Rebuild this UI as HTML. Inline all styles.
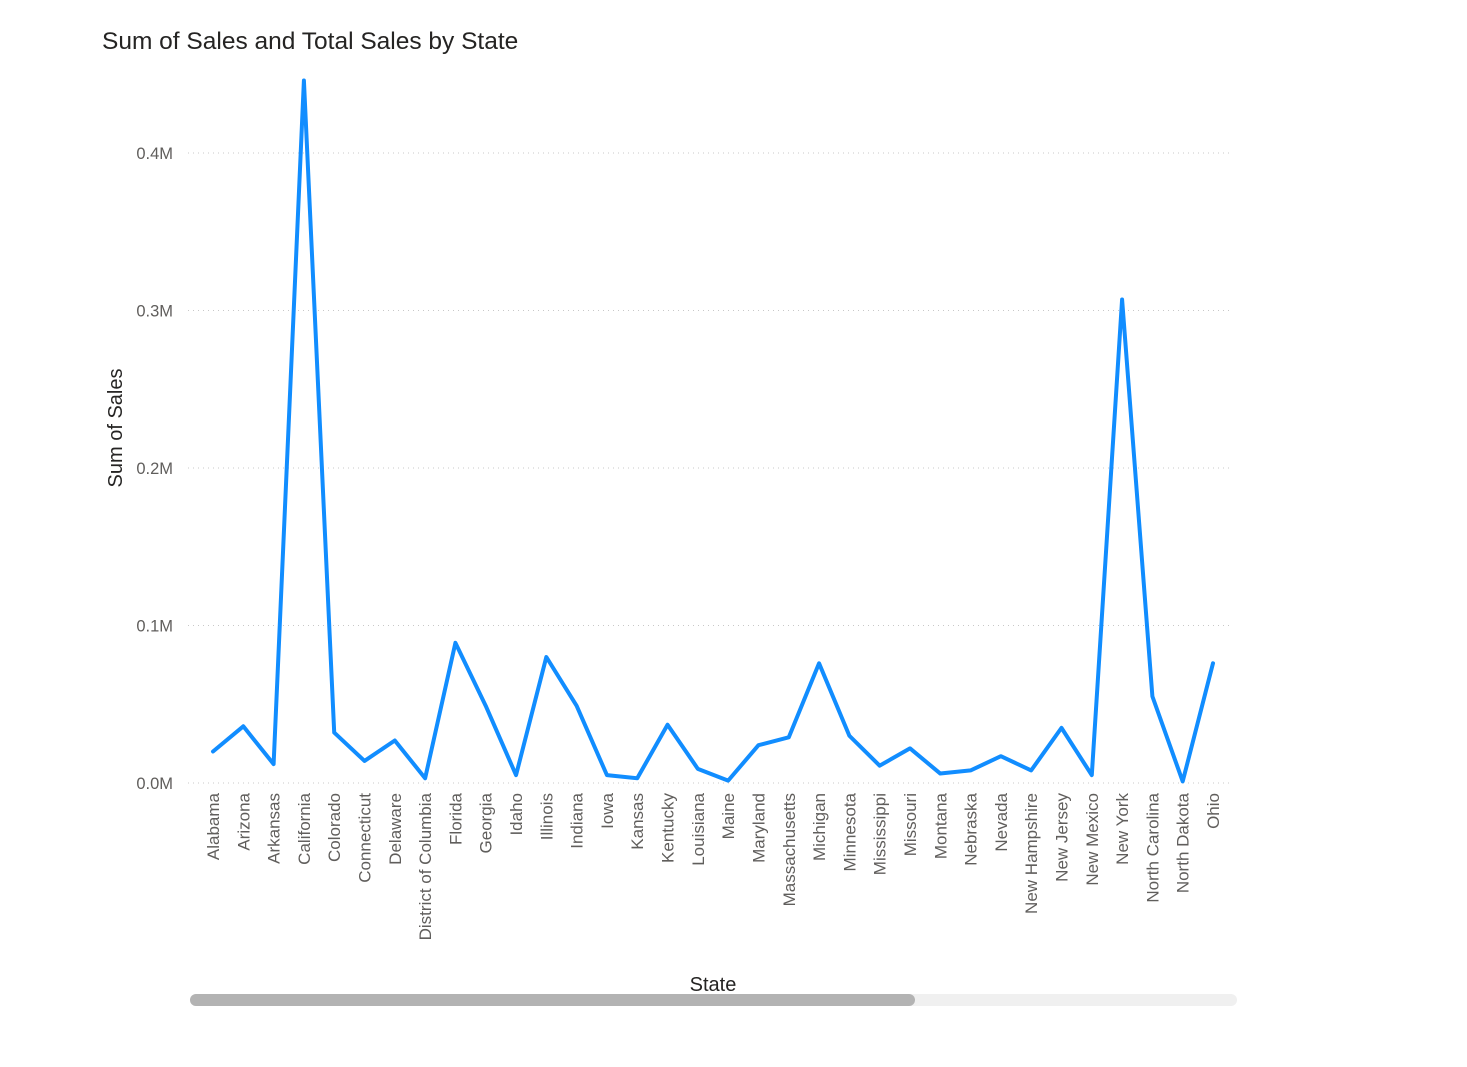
<!DOCTYPE html>
<html><head><meta charset="utf-8"><style>
body{margin:0;background:#fff;width:1467px;height:1062px;overflow:hidden;font-family:"Liberation Sans",sans-serif}
</style></head><body>
<svg width="1467" height="1062" xmlns="http://www.w3.org/2000/svg">
<text x="102" y="49" font-size="24.5" fill="#252423">Sum of Sales and Total Sales by State</text>
<text transform="translate(122,428) rotate(-90)" text-anchor="middle" font-size="20" fill="#252423">Sum of Sales</text>
<text x="713" y="991" text-anchor="middle" font-size="20" fill="#252423">State</text>
<g id="grid"></g><g id="xl"></g>
<path id="line" fill="none" stroke="#118DFF" stroke-width="4" stroke-linejoin="round" stroke-linecap="round"/>
<rect x="190" y="994" width="1047" height="12" rx="6" fill="#f0f0f0"/>
<rect x="190" y="994" width="725" height="12" rx="6" fill="#b3b3b3"/>
</svg>
<script>
const states=["Alabama","Arizona","Arkansas","California","Colorado","Connecticut","Delaware","District of Columbia","Florida","Georgia","Idaho","Illinois","Indiana","Iowa","Kansas","Kentucky","Louisiana","Maine","Maryland","Massachusetts","Michigan","Minnesota","Mississippi","Missouri","Montana","Nebraska","Nevada","New Hampshire","New Jersey","New Mexico","New York","North Carolina","North Dakota","Ohio"];
const sales=[0.020,0.036,0.012,0.446,0.032,0.014,0.027,0.003,0.089,0.049,0.005,0.080,0.049,0.005,0.003,0.037,0.009,0.0015,0.024,0.029,0.076,0.030,0.011,0.022,0.006,0.008,0.017,0.008,0.035,0.005,0.307,0.055,0.001,0.076];
const yTicks=[0,0.1,0.2,0.3,0.4];
const yTickLabels=["0.0M","0.1M","0.2M","0.3M","0.4M"];
const NS="http://www.w3.org/2000/svg";
const y=v=>783-v*1575;
const x=i=>213+i*(1000/(states.length-1));
const grid=document.getElementById('grid');
yTicks.forEach((t,i)=>{
 const l=document.createElementNS(NS,'line');
 l.setAttribute('x1',188);l.setAttribute('x2',1233);l.setAttribute('y1',y(t));l.setAttribute('y2',y(t));
 l.setAttribute('stroke','#c8c8c8');l.setAttribute('stroke-dasharray','1 4');
 
 
 grid.appendChild(l);
 const tx=document.createElementNS(NS,'text');
 tx.setAttribute('x',173);tx.setAttribute('y',y(t)+6);tx.setAttribute('text-anchor','end');
 tx.setAttribute('font-size','16.5');tx.setAttribute('fill','#605e5c');tx.textContent=yTickLabels[i];
 
 
 grid.appendChild(tx);
});
const xl=document.getElementById('xl');
states.forEach((s,i)=>{
 const tx=document.createElementNS(NS,'text');
 tx.setAttribute('transform','translate('+(x(i)+6)+',793) rotate(-90)');
 tx.setAttribute('text-anchor','end');tx.setAttribute('font-size','17');tx.setAttribute('fill','#605e5c');
 tx.textContent=s;
 
 
 xl.appendChild(tx);
});
document.getElementById('line').setAttribute('d',sales.map((v,i)=>(i?'L':'M')+x(i)+','+y(v)).join(''));
</script>
</body></html>
